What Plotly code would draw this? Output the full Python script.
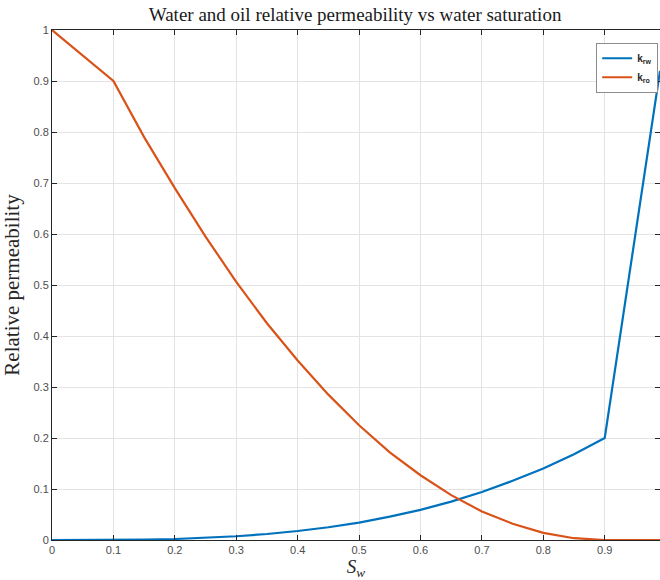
import plotly.graph_objects as go

sw = [0, 0.05, 0.1, 0.15, 0.2, 0.25, 0.3, 0.35, 0.4, 0.45, 0.5, 0.55, 0.6, 0.65, 0.7, 0.75, 0.8, 0.85, 0.9, 0.99]
krw = [0, 0.0, 0.0003, 0.0009, 0.002, 0.004, 0.0074, 0.0118, 0.0176, 0.025, 0.034, 0.0457, 0.059, 0.0753, 0.094, 0.116, 0.14, 0.168, 0.2, 0.92]
kro = [1, 0.95, 0.9, 0.79, 0.69, 0.595, 0.506, 0.425, 0.352, 0.285, 0.225, 0.172, 0.127, 0.088, 0.056, 0.032, 0.014, 0.0035, 0, 0]
xticks = [0, 0.1, 0.2, 0.3, 0.4, 0.5, 0.6, 0.7, 0.8, 0.9]
xticklabels = ["0", "0.1", "0.2", "0.3", "0.4", "0.5", "0.6", "0.7", "0.8", "0.9"]
yticks = [0, 0.1, 0.2, 0.3, 0.4, 0.5, 0.6, 0.7, 0.8, 0.9, 1]
yticklabels = ["0", "0.1", "0.2", "0.3", "0.4", "0.5", "0.6", "0.7", "0.8", "0.9", "1"]

fig = go.Figure()
fig.add_trace(go.Scatter(x=sw, y=krw, mode="lines", line=dict(color="#0072BD", width=2.2),
                         name="<b>k</b><sub><b>rw</b></sub>"))
fig.add_trace(go.Scatter(x=sw, y=kro, mode="lines", line=dict(color="#D95319", width=2.2),
                         name="<b>k</b><sub><b>ro</b></sub>"))

axis_common = dict(
    showgrid=True, gridcolor="#E3E3E3", gridwidth=1,
    showline=True, linecolor="#262626", linewidth=1, mirror="ticks",
    ticks="inside", ticklen=5, tickcolor="#262626",
    tickfont=dict(family="Liberation Sans, Arial", size=11, color="#4D4D4D"),
    zeroline=False,
)
fig.update_xaxes(range=[0, 0.99], tickvals=xticks, ticktext=xticklabels, **axis_common,
                 title=dict(text="<i>S</i><sub><i>w</i></sub>", font=dict(family="Liberation Serif, DejaVu Serif", size=19, color="#262626"), standoff=6))
fig.update_yaxes(range=[0, 1], tickvals=yticks, ticktext=yticklabels, **axis_common,
                 title=dict(text="Relative permeability", font=dict(family="Liberation Serif, DejaVu Serif", size=21, color="#262626"), standoff=8))

fig.update_layout(
    width=660, height=580,
    margin=dict(l=52, r=0, t=30, b=40),
    paper_bgcolor="white", plot_bgcolor="white",
    title=dict(text="Water and oil relative permeability vs water saturation", x=0.538, xanchor="center", y=0.975, yanchor="middle",
               font=dict(family="Liberation Serif, DejaVu Serif", size=19, color="#1A1A1A")),
    legend=dict(x=0.997, y=0.975, xanchor="right", yanchor="top", bgcolor="white", bordercolor="#8C8C8C", borderwidth=1,
                font=dict(family="Liberation Sans, Arial", size=10, color="#262626"), itemwidth=30, tracegroupgap=0),
    showlegend=True,
)

fig.write_html("out.html")
